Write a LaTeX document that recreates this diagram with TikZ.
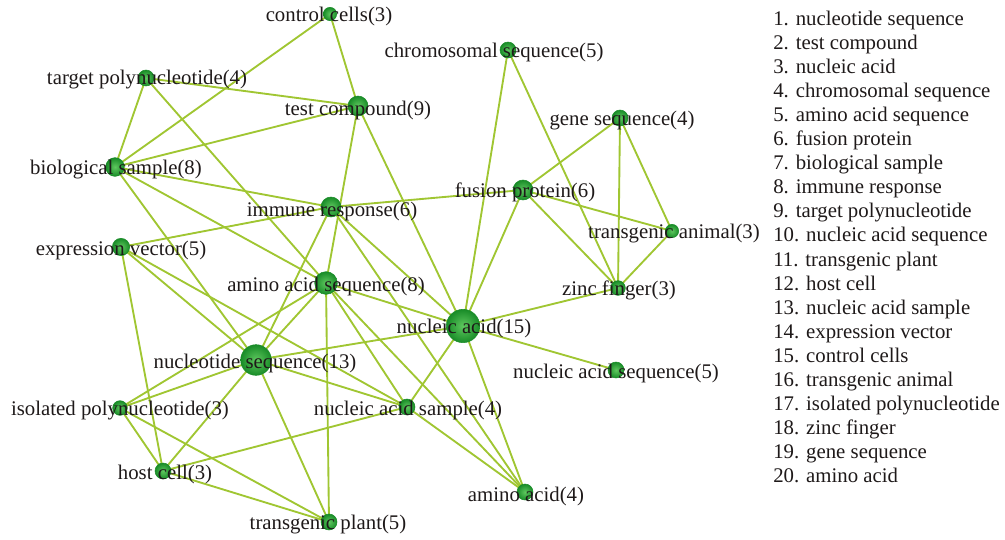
\documentclass[tikz,border=0pt]{standalone}
\usepackage{fontspec}
\setmainfont{Liberation Serif}
\definecolor{edgec}{RGB}{160,198,50}
\definecolor{nodein}{RGB}{95,200,95}
\definecolor{nodeout}{RGB}{25,140,40}
\definecolor{txtc}{RGB}{30,25,25}
\begin{document}
\begin{tikzpicture}[x=0.75pt,y=-0.75pt,
  link/.style={draw=edgec,line width=1.4pt},
  dot/.style={circle,inner sep=0pt,minimum size=#1,shading=radial,inner color=nodein,outer color=nodeout,draw=nodeout,line width=0.4pt},
  dot/.default=11,
  lab/.style={text=txtc,font=\fontsize{15.6}{18}\selectfont,inner sep=0pt},
  leg/.style={text=txtc,font=\fontsize{15.6}{18}\selectfont,inner sep=0pt,anchor=base west}]
\useasboundingbox (0,0) rectangle (1005,539);
% node positions
\coordinate (CC) at (330,14);
\coordinate (TP) at (146,78);
\coordinate (TC) at (358,106);
\coordinate (CS) at (508,50);
\coordinate (GS) at (620,118);
\coordinate (BS) at (115,167);
\coordinate (IR) at (331,207);
\coordinate (FP) at (523,190);
\coordinate (TA) at (672,231);
\coordinate (EV) at (121,247);
\coordinate (AAS) at (326,283);
\coordinate (ZF) at (618,288);
\coordinate (NA) at (463,326);
\coordinate (NS) at (256,360);
\coordinate (NAS) at (616,370);
\coordinate (IP) at (120,408);
\coordinate (NSm) at (407,407);
\coordinate (HC) at (163,471);
\coordinate (AA) at (525,492);
\coordinate (TPl) at (329,522);
% edges
\foreach \a/\b in {CC/TC,CC/BS,TP/TC,TP/BS,TP/AAS,TC/BS,TC/AAS,TC/NA,
  CS/NA,CS/ZF,GS/FP,GS/ZF,GS/TA,FP/IR,FP/TA,FP/ZF,FP/NA,TA/ZF,ZF/NA,NAS/NA,
  BS/IR,BS/NS,BS/AAS,IR/EV,IR/NS,IR/NA,IR/AA,EV/HC,EV/NS,EV/NSm,
  AAS/NS,AAS/IP,AAS/TPl,AAS/NA,AAS/NSm,AAS/AA,
  NS/NA,NS/IP,NS/HC,NS/TPl,NS/NSm,NA/NSm,NA/AA,NSm/AA,NSm/HC,
  IP/HC,IP/TPl,HC/TPl}
  \draw[link] (\a) -- (\b);
% dots
\node[dot=10] (dCC) at (CC) {};
\node[dot=12] (dTP) at (TP) {};
\node[dot=15] (dTC) at (TC) {};
\node[dot=12] (dCS) at (CS) {};
\node[dot=12] (dGS) at (GS) {};
\node[dot=14] (dBS) at (BS) {};
\node[dot=15] (dIR) at (IR) {};
\node[dot=15] (dFP) at (FP) {};
\node[dot=10] (dTA) at (TA) {};
\node[dot=13] (dEV) at (EV) {};
\node[dot=17] (dAAS) at (AAS) {};
\node[dot=11] (dZF) at (ZF) {};
\node[dot=25] (dNA) at (NA) {};
\node[dot=23] (dNS) at (NS) {};
\node[dot=12] (dNAS) at (NAS) {};
\node[dot=11] (dIP) at (IP) {};
\node[dot=12] (dNSm) at (NSm) {};
\node[dot=12] (dHC) at (HC) {};
\node[dot=12] (dAA) at (AA) {};
\node[dot=12] (dTPl) at (TPl) {};
% labels
\node[lab] (lCC) at (329,16) {control cells(3)};
\node[lab] (lTP) at (147,80) {target polynucleotide(4)};
\node[lab] (lTC) at (358,110) {test compound(9)};
\node[lab] (lCS) at (494,52) {chromosomal sequence(5)};
\node[lab] (lGS) at (622,121) {gene sequence(4)};
\node[lab] (lBS) at (116,170) {biological sample(8)};
\node[lab] (lIR) at (332,211) {immune response(6)};
\node[lab] (lFP) at (525,192) {fusion protein(6)};
\node[lab] (lTA) at (674,234) {transgenic animal(3)};
\node[lab] (lEV) at (121,250) {expression vector(5)};
\node[lab] (lAAS) at (326,286) {amino acid sequence(8)};
\node[lab] (lZF) at (619,290) {zinc finger(3)};
\node[lab] (lNA) at (464,328) {nucleic acid(15)};
\node[lab] (lNS) at (255,363) {nucleotide sequence(13)};
\node[lab] (lNAS) at (616,373) {nucleic acid sequence(5)};
\node[lab] (lIP) at (120,411) {isolated polynucleotide(3)};
\node[lab] (lNSm) at (408,410) {nucleic acid sample(4)};
\node[lab] (lHC) at (165,474) {host cell(3)};
\node[lab] (lAA) at (526,496) {amino acid(4)};
\node[lab] (lTPl) at (328,525) {transgenic plant(5)};
% legend
\foreach \t [count=\i] in {nucleotide sequence,test compound,nucleic acid,chromosomal sequence,
  amino acid sequence,fusion protein,biological sample,immune response,target polynucleotide,
  nucleic acid sequence,transgenic plant,host cell,nucleic acid sample,expression vector,
  control cells,transgenic animal,isolated polynucleotide,zinc finger,gene sequence,amino acid}
  \node[leg] (leg\i) at (773,{25+24.1*(\i-1)}) {\i. \t};
\end{tikzpicture}
\end{document}
